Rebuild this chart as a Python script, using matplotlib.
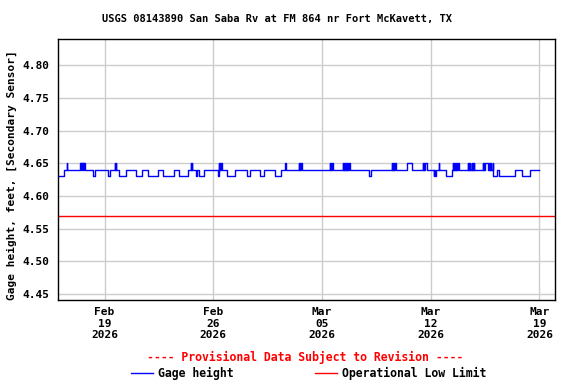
import pandas as pd
import matplotlib.pyplot as plt
import matplotlib.dates as mdates
from matplotlib.lines import Line2D

# gage readings (change points, 15-min data), feet
times = [
    "02-16 00:00", "02-16 08:30", "02-16 13:30", "02-16 13:45",
    "02-17 10:45", "02-17 11:00", "02-17 12:15", "02-17 12:30", "02-17 13:45", "02-17 14:00",
    "02-17 15:15", "02-17 15:30", "02-17 16:45", "02-17 18:00",
    "02-18 05:45", "02-18 08:30", "02-19 05:00", "02-19 08:15",
    "02-19 16:00", "02-19 16:15", "02-19 17:30", "02-19 17:45",
    "02-19 21:30", "02-20 09:00", "02-21 01:00", "02-21 09:45",
    "02-21 19:00", "02-22 10:30", "02-22 18:15", "02-23 10:45",
    "02-23 19:00", "02-24 09:00",
    "02-24 13:30", "02-24 13:45", "02-24 15:00", "02-24 15:15",
    "02-24 21:30", "02-24 22:45", "02-25 01:30", "02-25 09:00",
    "02-26 07:15", "02-26 09:00", "02-26 09:15", "02-26 10:30", "02-26 10:45", "02-26 12:00", "02-26 13:00",
    "02-26 21:15", "02-27 09:30", "02-28 04:15", "02-28 08:00",
    "03-01 00:45", "03-01 07:00", "03-01 23:30", "03-02 08:45",
    "03-02 15:30", "03-02 15:45",
    "03-03 12:45", "03-03 13:00", "03-03 14:15", "03-03 14:30", "03-03 15:45", "03-03 16:45",
    "03-05 12:00", "03-05 12:15", "03-05 13:30", "03-05 13:45", "03-05 15:00", "03-05 16:15",
    "03-06 08:45", "03-06 09:00", "03-06 10:15", "03-06 10:30", "03-06 11:45", "03-06 12:00",
    "03-06 13:15", "03-06 13:30", "03-06 14:45", "03-06 15:00", "03-06 16:15", "03-06 16:30",
    "03-06 17:45", "03-06 19:00",
    "03-08 00:30", "03-08 03:00",
    "03-09 12:00", "03-09 12:15", "03-09 13:30", "03-09 13:45", "03-09 15:00", "03-09 15:15",
    "03-09 16:30", "03-09 18:15",
    "03-10 11:15", "03-10 18:30",
    "03-11 12:30", "03-11 12:45", "03-11 14:00", "03-11 14:15", "03-11 15:30", "03-11 17:45",
    "03-12 04:15", "03-12 05:45", "03-12 07:00", "03-12 08:30",
    "03-12 13:15", "03-12 13:30", "03-12 23:30", "03-13 08:30",
    "03-13 10:00", "03-13 10:15", "03-13 11:30", "03-13 11:45", "03-13 13:00", "03-13 13:15",
    "03-13 14:30", "03-13 14:45", "03-13 16:00", "03-13 16:15", "03-13 17:30", "03-13 19:15",
    "03-14 10:00", "03-14 10:15", "03-14 11:30", "03-14 11:45", "03-14 13:00", "03-14 13:15",
    "03-14 15:30", "03-14 15:45", "03-14 17:00", "03-14 17:15", "03-14 18:30", "03-14 19:30",
    "03-15 08:30", "03-15 08:45", "03-15 10:00", "03-15 10:15", "03-15 11:15", "03-15 16:30",
    "03-15 17:45", "03-15 18:00", "03-15 19:15", "03-15 19:30", "03-15 20:45", "03-15 21:15",
    "03-15 23:45", "03-16 00:00", "03-16 06:30", "03-16 09:30",
    "03-17 09:30", "03-17 20:30", "03-18 09:30", "03-19 00:00",
]
values = [
    4.63, 4.64, 4.65, 4.64,
    4.65, 4.64, 4.65, 4.64, 4.65, 4.64,
    4.65, 4.64, 4.65, 4.64,
    4.63, 4.64, 4.63, 4.64,
    4.65, 4.64, 4.65, 4.64,
    4.63, 4.64, 4.63, 4.64,
    4.63, 4.64, 4.63, 4.64,
    4.63, 4.64,
    4.65, 4.64, 4.65, 4.64,
    4.63, 4.64, 4.63, 4.64,
    4.63, 4.65, 4.64, 4.65, 4.64, 4.65, 4.64,
    4.63, 4.64, 4.63, 4.64,
    4.63, 4.64, 4.63, 4.64,
    4.65, 4.64,
    4.65, 4.64, 4.65, 4.64, 4.65, 4.64,
    4.65, 4.64, 4.65, 4.64, 4.65, 4.64,
    4.65, 4.64, 4.65, 4.64, 4.65, 4.64,
    4.65, 4.64, 4.65, 4.64, 4.65, 4.64,
    4.65, 4.64,
    4.63, 4.64,
    4.65, 4.64, 4.65, 4.64, 4.65, 4.64,
    4.65, 4.64,
    4.65, 4.64,
    4.65, 4.64, 4.65, 4.64, 4.65, 4.64,
    4.63, 4.64, 4.63, 4.64,
    4.65, 4.64, 4.63, 4.64,
    4.65, 4.64, 4.65, 4.64, 4.65, 4.64,
    4.65, 4.64, 4.65, 4.64, 4.65, 4.64,
    4.65, 4.64, 4.65, 4.64, 4.65, 4.64,
    4.65, 4.64, 4.65, 4.64, 4.65, 4.64,
    4.65, 4.64, 4.65, 4.64, 4.65, 4.64,
    4.65, 4.64, 4.65, 4.64, 4.65, 4.64,
    4.65, 4.63, 4.64, 4.63,
    4.64, 4.63, 4.64, 4.64,
]
low_limit = 4.57
yticks = [4.45, 4.50, 4.55, 4.60, 4.65, 4.70, 4.75, 4.80]
xticks = ["2026-02-19", "2026-02-26", "2026-03-05", "2026-03-12", "2026-03-19"]

t = pd.to_datetime(["2026-" + s for s in times])

plt.rcParams['font.family'] = 'DejaVu Sans Mono'
plt.rcParams['font.weight'] = 'bold'
plt.rcParams['font.size'] = 8

fig = plt.figure(figsize=(5.76, 3.84), dpi=100)
ax = fig.add_axes([58/576, 84/384, 497/576, 261/384])

ax.step(t, values, where='post', color='#0000ff', lw=1.0)
ax.axhline(low_limit, color='#ff0000', lw=1.0)

ax.set_xlim(pd.Timestamp("2026-02-16"), pd.Timestamp("2026-03-20"))
ax.set_ylim(4.441, 4.84)
ax.set_yticks(yticks)
ax.set_yticklabels([f"{y:.2f}" for y in yticks])
ax.set_xticks(pd.to_datetime(xticks))
ax.xaxis.set_major_formatter(mdates.DateFormatter('%b\n%d\n%Y'))
ax.grid(color='#cccccc', lw=1.0)
ax.set_axisbelow(True)
ax.tick_params(axis='y', length=0, pad=6)
ax.tick_params(axis='x', length=0, pad=5)
for sp in ax.spines.values():
    sp.set_linewidth(1.0)

fig.text(12/576, 0.545, "Gage height, feet, [Secondary Sensor]", rotation=90,
         ha='center', va='center')
fig.text(0.481, 0.95, "USGS 08143890 San Saba Rv at FM 864 nr Fort McKavett, TX",
         ha='center', va='center', fontsize=7.5)
fig.text(0.53, 0.068, "---- Provisional Data Subject to Revision ----",
         ha='center', va='center', color='#ff0000', fontsize=8.3)

handles = [Line2D([], [], color='#0000ff', lw=1.0), Line2D([], [], color='#ff0000', lw=1.0)]
fig.legend(handles, ["Gage height", "Operational Low Limit"], loc='center',
           bbox_to_anchor=(0.536, 0.028), ncol=2, frameon=False, fontsize=8.3,
           handlelength=1.9, handletextpad=0.5, columnspacing=7.0,
           borderpad=0, borderaxespad=0)

fig.savefig("out.png", dpi=100)
